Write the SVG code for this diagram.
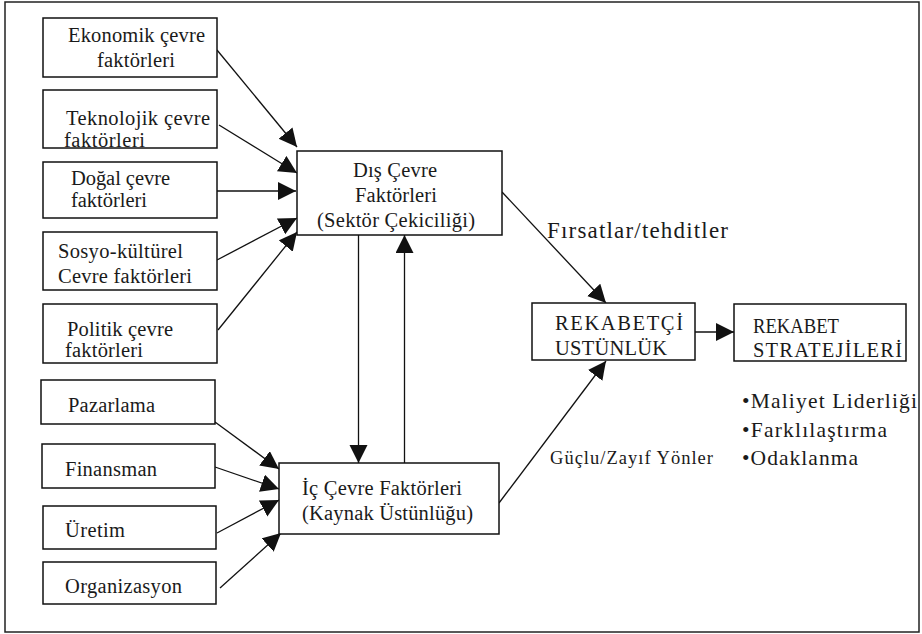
<svg xmlns="http://www.w3.org/2000/svg" width="922" height="634" viewBox="0 0 922 634">
<style>
.box{fill:#fff;stroke:#111;stroke-width:1.5}
.frame{fill:#fff;stroke:#222;stroke-width:1.5}
text{font-family:"Liberation Serif","Times New Roman",serif;fill:#1a1a1a;font-size:20.5px}
.c{fill:none;stroke:#111;stroke-width:1.3}
</style>
<defs>
<marker id="ah" markerUnits="userSpaceOnUse" markerWidth="20" markerHeight="20" refX="18" refY="9" orient="auto">
<path d="M0,0 L18,9 L0,18 z" fill="#111"/>
</marker>
</defs>
<rect class="frame" x="5" y="2" width="914" height="630"/>
<g id="connectors">
<line class="c" x1="217" y1="50" x2="297" y2="147" marker-end="url(#ah)"/>
<line class="c" x1="219" y1="125" x2="297" y2="173" marker-end="url(#ah)"/>
<line class="c" x1="217" y1="191" x2="296" y2="191" marker-end="url(#ah)"/>
<line class="c" x1="217" y1="260" x2="297" y2="218" marker-end="url(#ah)"/>
<line class="c" x1="218" y1="330" x2="297" y2="232" marker-end="url(#ah)"/>
<line class="c" x1="215" y1="422" x2="279" y2="469" marker-end="url(#ah)"/>
<line class="c" x1="215" y1="467" x2="279" y2="489" marker-end="url(#ah)"/>
<line class="c" x1="217" y1="533" x2="279" y2="500" marker-end="url(#ah)"/>
<line class="c" x1="220" y1="588" x2="281" y2="533" marker-end="url(#ah)"/>
<line class="c" x1="358.5" y1="235" x2="358.5" y2="463" marker-end="url(#ah)"/>
<line class="c" x1="404.5" y1="463" x2="404.5" y2="235" marker-end="url(#ah)"/>
<line class="c" x1="502" y1="192" x2="606" y2="303" marker-end="url(#ah)"/>
<line class="c" x1="499" y1="503" x2="606" y2="361" marker-end="url(#ah)"/>
<line class="c" x1="695" y1="332" x2="734" y2="332" marker-end="url(#ah)"/>
</g>
<g id="ekonomik"><rect class="box" x="43" y="18" width="174" height="59"/>
<text x="68" y="42" textLength="137">Ekonomik çevre</text><text x="97" y="67" textLength="78">faktörleri</text></g>
<g id="teknolojik"><rect class="box" x="43" y="90" width="174" height="58"/>
<text x="66" y="125" textLength="144">Teknolojik çevre</text><text x="64" y="147" textLength="81">faktörleri</text></g>
<g id="dogal"><rect class="box" x="43" y="162" width="174" height="56"/>
<text x="71" y="185" textLength="99">Doğal çevre</text><text x="71" y="207" textLength="76">faktörleri</text></g>
<g id="sosyo"><rect class="box" x="43" y="232" width="174" height="58"/>
<text x="58" y="258" textLength="125">Sosyo-kültürel</text><text x="58" y="283" textLength="134">Cevre faktörleri</text></g>
<g id="politik"><rect class="box" x="43" y="304" width="174" height="59"/>
<text x="67" y="336" textLength="106">Politik çevre</text><text x="65" y="357" textLength="78">faktörleri</text></g>
<g id="pazarlama"><rect class="box" x="41" y="380" width="174" height="44"/>
<text x="68" y="412" textLength="87">Pazarlama</text></g>
<g id="finansman"><rect class="box" x="42" y="444" width="173" height="44"/>
<text x="65" y="476" textLength="92">Finansman</text></g>
<g id="uretim"><rect class="box" x="43" y="506" width="173" height="43"/>
<text x="65" y="537" textLength="60">Üretim</text></g>
<g id="organizasyon"><rect class="box" x="43" y="562" width="173" height="42"/>
<text x="65" y="593" textLength="117">Organizasyon</text></g>
<g id="dis"><rect class="box" x="297" y="151" width="205" height="84"/>
<text x="353" y="177" textLength="84">Dış Çevre</text><text x="355" y="202" textLength="82">Faktörleri</text><text x="317" y="227" textLength="158">(Sektör Çekiciliği)</text></g>
<g id="ic"><rect class="box" x="279" y="463" width="220" height="71"/>
<text x="302" y="495" textLength="160">İç Çevre Faktörleri</text><text x="302" y="520" textLength="171">(Kaynak Üstünlüğu)</text></g>
<g id="rekabetci"><rect class="box" x="532" y="303" width="163" height="57"/>
<text x="555" y="330" textLength="128">REKABETÇİ</text><text x="555" y="355" textLength="112">USTÜNLÜK</text></g>
<g id="strateji"><rect class="box" x="734" y="304" width="172" height="57"/>
<text x="753" y="333" textLength="86" lengthAdjust="spacingAndGlyphs">REKABET</text><text x="753" y="357" textLength="149">STRATEJİLERİ</text></g>
<g id="labels">
<text x="547" y="238" textLength="181" style="font-size:23px">Fırsatlar/tehditler</text>
<text x="550" y="464" textLength="163" style="font-size:18.5px">Güçlu/Zayıf Yönler</text>
<text x="742" y="408" textLength="175" style="font-size:21.5px">•Maliyet Liderliği</text>
<text x="742" y="437" textLength="145" style="font-size:21.5px">•Farklılaştırma</text>
<text x="742" y="465" textLength="116" style="font-size:21.5px">•Odaklanma</text>
</g>
</svg>
